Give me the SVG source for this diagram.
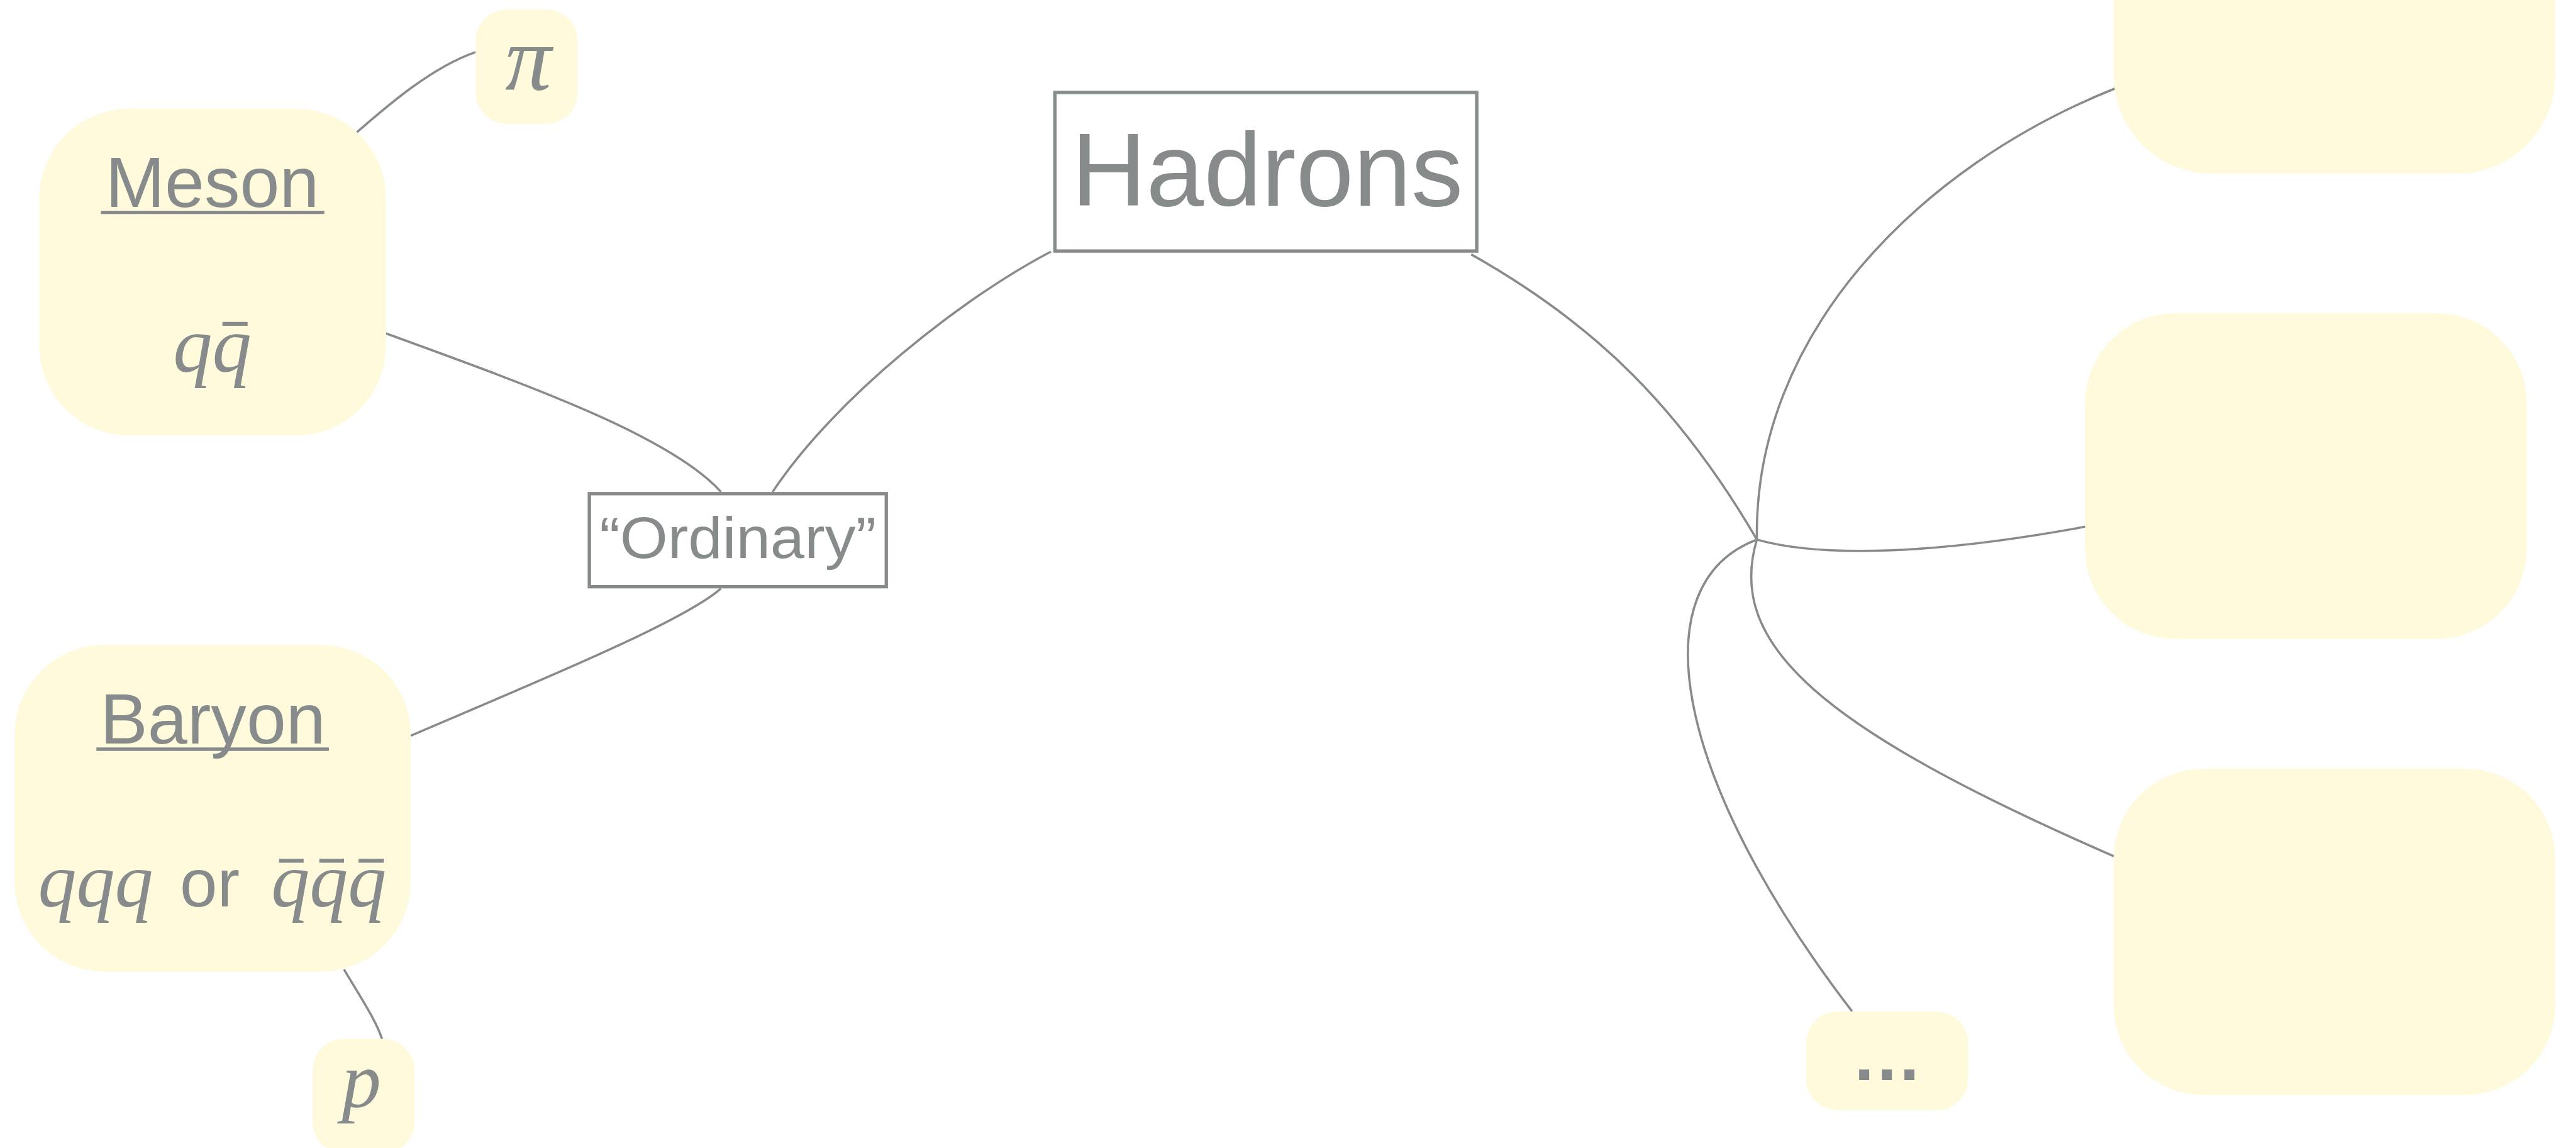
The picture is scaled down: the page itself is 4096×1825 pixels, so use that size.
<svg xmlns="http://www.w3.org/2000/svg" width="4096" height="1825" viewBox="0 0 4096 1825">
<style>
.node{fill:#FEFADB}
.box{fill:#FFFFFF;stroke:#878B8B;stroke-width:6}
.edge{fill:none;stroke:#878B8B;stroke-width:4}
.sans{font-family:"Liberation Sans",Arial,sans-serif;fill:#878B8B}
.math{font-family:"Liberation Serif","Times New Roman",serif;font-style:italic;fill:#878B8B}
.bar{stroke:#878B8B;stroke-width:7}
.ul{stroke:#878B8B;stroke-width:6}
</style>
<rect x="0" y="0" width="4096" height="1825" fill="#FFFFFF"/>
<g transform="scale(0.8908)">
<g id="connectors">
<path class="edge" d="M637,236 C690,190 770,120 849,93"/>
<path class="edge" d="M689,595 C950,690 1200,780 1287,878"/>
<path class="edge" d="M1876,449 C1720,530 1490,710 1379,878"/>
<path class="edge" d="M1287,1050 C1220,1110 950,1220 733,1313"/>
<path class="edge" d="M614,1730 C650,1790 670,1820 682,1854"/>
<path class="edge" d="M2626,454 C2850,580 3000,730 3136,963"/>
<path class="edge" d="M3136,963 C3130,600 3420,300 3775,158"/>
<path class="edge" d="M3136,963 C3250,995 3450,990 3722,940"/>
<path class="edge" d="M3136,963 C3080,1150 3250,1300 3773,1528"/>
<path class="edge" d="M3136,963 C2930,1040 2980,1380 3306,1805"/>
</g>
<g id="hadrons">
<rect class="box" x="1883" y="165" width="753" height="283"/>
<text class="sans" x="2262" y="367" font-size="185" text-anchor="middle">Hadrons</text>
</g>
<g id="ordinary">
<rect class="box" x="1052" y="881" width="530" height="166"/>
<text class="sans" x="1317" y="996" font-size="104" text-anchor="middle" textLength="494" lengthAdjust="spacingAndGlyphs">“Ordinary”</text>
</g>
<g id="meson">
<rect class="node" x="70" y="194" width="619" height="583" rx="160" ry="160"/>
<text class="sans" x="379" y="369" font-size="127" text-anchor="middle">Meson</text>
<line class="ul" x1="180" y1="379" x2="579" y2="379"/>
<text class="math" x="379" y="662" font-size="140" text-anchor="middle">qq</text>
<line class="bar" x1="397" y1="578" x2="442" y2="578"/>
</g>
<g id="pi">
<rect class="node" x="849" y="17" width="182" height="204" rx="56" ry="56"/>
<text class="math" x="943" y="160" font-size="165" text-anchor="middle">π</text>
</g>
<g id="baryon">
<rect class="node" x="26" y="1151" width="707" height="583" rx="160" ry="160"/>
<text class="sans" x="380" y="1327" font-size="127" text-anchor="middle">Baryon</text>
<line class="ul" x1="172" y1="1337" x2="587" y2="1337"/>
<text y="1618"><tspan class="math" x="68" font-size="137">qqq</tspan><tspan class="sans" x="321" font-size="120">or</tspan><tspan class="math" x="484" font-size="137">qqq</tspan></text>
<line class="bar" x1="498" y1="1536" x2="542" y2="1536"/>
<line class="bar" x1="570" y1="1536" x2="614" y2="1536"/>
<line class="bar" x1="640" y1="1536" x2="685" y2="1536"/>
</g>
<g id="p">
<rect class="node" x="558" y="1854" width="182" height="204" rx="56" ry="56"/>
<text class="math" x="645" y="1975" font-size="140" text-anchor="middle">p</text>
</g>
<g id="right-top">
<rect class="node" x="3773" y="-271" width="788" height="581" rx="175" ry="175"/>
</g>
<g id="right-middle">
<rect class="node" x="3722" y="559" width="788" height="581" rx="160" ry="160"/>
</g>
<g id="right-bottom">
<rect class="node" x="3773" y="1372" width="788" height="582" rx="160" ry="160"/>
</g>
<g id="more">
<rect class="node" x="3224" y="1805" width="289" height="176" rx="56" ry="56"/>
<text class="sans" x="3368" y="1927" font-size="127" font-weight="bold" text-anchor="middle">…</text>
</g>
</g>
</svg>
